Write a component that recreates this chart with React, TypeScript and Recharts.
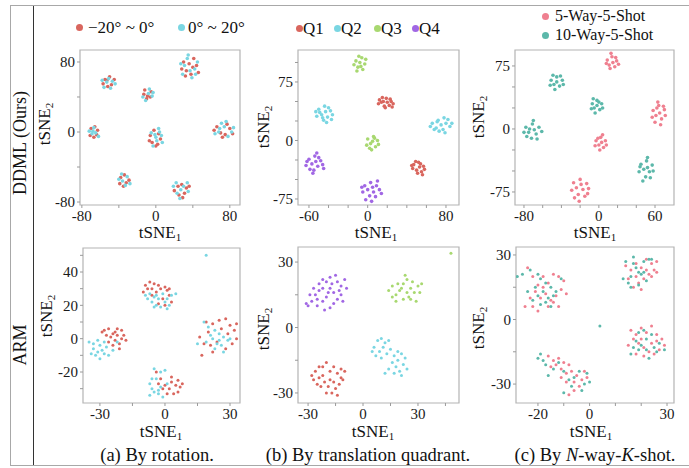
import React from "react";
import { ScatterChart, Scatter, XAxis, YAxis, ReferenceArea } from "recharts";

type Pt = [number, number];

// ---- DDML row ----
const ddmlRotNeg: Pt[] = [
  [30,80],[38,66],[44,76],[33,70],[41,84],[28,72],[46,68],[36,78],[40,74],[32,64],
  [-55,60],[-48,54],[-52,52],[-45,60],[-57,55],[-50,63],[-53,59],
  [-12,48],[-6,40],[-10,38],[-5,46],[-13,43],[-9,41],
  [-70,4],[-64,-3],[-66,6],[-71,-4],[-63,2],[-67,-6],
  [-4,-12],[3,-2],[-6,-4],[2,-14],[5,-8],[-2,2],[-7,-10],[0,-16],
  [66,6],[75,-3],[80,4],[70,-1],[63,2],[77,9],[72,-6],[83,-2],
  [-38,-52],[-32,-58],[-34,-49],[-29,-55],[-39,-59],[-35,-62],
  [24,-62],[31,-70],[20,-67],[28,-60],[33,-64],[25,-72],[29,-75],[36,-62],
];
const ddmlRotPos: Pt[] = [
  [34,84],[42,72],[29,66],[39,62],[45,80],[31,76],[37,70],[27,78],[35,88],[43,66],
  [-53,57],[-47,58],[-44,55],[-56,51],[-49,50],[-51,61],[-58,59],
  [-8,44],[-4,41],[-11,36],[-7,49],[-14,40],[-3,45],
  [-68,1],[-65,-1],[-62,-5],[-69,-2],[-67,5],[-72,1],
  [0,-6],[4,0],[-3,-16],[6,-4],[-5,-1],[1,-10],[-1,-3],[7,-12],[3,4],
  [68,0],[74,6],[82,0],[64,-2],[71,10],[78,-5],[69,4],[84,5],[76,12],
  [-36,-56],[-31,-51],[-40,-54],[-33,-61],[-28,-59],[-37,-48],
  [27,-66],[22,-58],[34,-58],[19,-62],[30,-62],[23,-70],[35,-68],[26,-76],
];
const ddmlQ1: Pt[] = [
  [14,49],[19,54],[24,50],[17,44],[22,45],[12,52],[20,49],[26,47],[15,55],[23,53],[18,42],[11,47],[25,43],[16,50],
  [47,-31],[52,-28],[57,-33],[50,-38],[55,-40],[46,-36],[53,-34],[58,-37],[49,-27],[54,-30],[51,-42],[45,-32],[56,-44],
];
const ddmlQ2: Pt[] = [
  [-50,40],[-44,44],[-38,38],[-47,33],[-41,30],[-52,31],[-36,33],[-45,26],[-40,42],[-49,36],[-43,37],[-37,27],[-53,37],[-46,29],[-42,23],
  [66,22],[72,26],[80,22],[70,16],[77,14],[84,18],[68,14],[75,20],[82,27],[64,18],[79,10],[73,12],[86,22],[71,24],[78,29],
];
const ddmlQ3: Pt[] = [
  [-12,102],[-6,106],[-3,98],[-10,94],[-5,91],[-14,97],[-8,100],[-2,104],[-11,89],[-7,95],[-9,108],
  [0,2],[6,5],[10,0],[3,-4],[8,-8],[-1,-6],[5,-1],[11,-5],[2,-10],[7,3],[4,-12],
];
const ddmlQ4: Pt[] = [
  [-60,-24],[-54,-20],[-48,-26],[-57,-30],[-51,-33],[-63,-32],[-46,-31],[-55,-38],[-50,-22],[-59,-37],[-53,-27],[-45,-36],[-62,-27],[-56,-42],[-52,-16],
  [-3,-58],[3,-54],[9,-58],[0,-63],[6,-66],[-5,-66],[12,-63],[2,-71],[8,-72],[-2,-76],[14,-68],[5,-60],[-6,-60],[10,-52],[4,-78],
];
const ddml5Way: Pt[] = [
  [9,82],[14,86],[19,81],[11,76],[17,74],[8,78],[15,79],[21,77],[12,72],[18,85],[13,90],
  [58,22],[64,28],[70,23],[61,16],[67,12],[57,14],[65,19],[71,16],[60,8],[66,5],[69,27],[62,25],[63,32],
  [-3,-14],[2,-10],[7,-14],[0,-19],[5,-22],[-4,-20],[3,-16],[8,-19],[1,-25],[-1,-11],[4,-7],
  [-27,-64],[-20,-60],[-13,-65],[-24,-70],[-17,-72],[-29,-73],[-11,-71],[-22,-78],[-15,-80],[-26,-82],[-19,-66],[-12,-77],[-21,-86],
];
const ddml10Way: Pt[] = [
  [-51,58],[-45,62],[-39,58],[-48,53],[-42,51],[-52,52],[-45,56],[-38,53],[-47,47],[-41,63],[-49,64],
  [-7,30],[-2,34],[3,30],[-5,25],[1,23],[-8,24],[-2,28],[4,25],[-4,19],[0,32],[-6,36],
  [-78,2],[-71,6],[-64,2],[-75,-4],[-67,-6],[-80,-4],[-61,-3],[-72,-11],[-66,-12],[-74,0],[-69,-1],[-77,-9],[-70,10],
  [45,-42],[51,-38],[57,-43],[48,-48],[54,-51],[43,-51],[58,-50],[50,-57],[55,-58],[47,-62],[52,-46],[44,-45],[52,-34],
];

// ---- ARM row ----
const armRotNeg: Pt[] = [
  [-9,32],[-7,34],[-5,33],[-3,32],[-8,30],[-6,30],[-4,28],[-10,28],[-2,30],[0,31],[1,29],[2,26],[-1,24],[3,22],[-3,21],[2,30],[-6,26],[0,20],
  [-28,5],[-26,6],[-24,3],[-22,6],[-20,5],[-22,2],[-20,0],[-18,-1],[-21,-3],[-23,-1],[-25,1],[-27,2],[-19,2],[-24,-4],[-21,-6],[-26,-2],[-29,4],[-23,4],
  [19,10],[22,9],[25,11],[28,12],[30,8],[32,5],[33,0],[31,-3],[28,-6],[22,-8],[17,-10],[18,-3],[16,1],[20,4],[26,6],[24,-2],[29,3],[21,-4],[33,9],
  [-4,-20],[-2,-24],[0,-28],[2,-30],[3,-26],[5,-28],[7,-29],[6,-32],[4,-33],[8,-27],[1,-33],[-1,-30],[3,-23],[-3,-27],[6,-25],
];
const armRotPos: Pt[] = [
  [-7,27],[-5,25],[-3,24],[-6,22],[-4,20],[-2,19],[0,22],[1,24],[-8,24],[3,26],[5,27],[-1,27],[-4,26],[2,20],[-5,19],[1,18],[-9,26],
  [-35,-2],[-33,-6],[-31,-8],[-29,-7],[-34,-9],[-32,-10],[-30,-12],[-28,-9],[-27,-5],[-33,-3],[-30,-4],[-26,-10],[-24,-7],[-22,-2],[-31,-1],[-28,-2],
  [20,7],[23,5],[25,3],[27,1],[22,0],[24,-3],[26,-4],[29,-1],[19,-2],[23,-6],[27,-8],[30,0],[15,-3],[21,2],[25,-1],[18,10],
  [-7,-27],[-6,-30],[-5,-32],[-7,-34],[-3,-33],[-1,-35],[-4,-24],[-2,-20],[-5,-18],[0,-19],[-2,-29],[-6,-24],[1,-27],[-3,-31],
  [19,50],
];
const armQ1: Pt[] = [
  [-28,-22],[-26,-20],[-24,-23],[-22,-18],[-20,-16],[-18,-20],[-16,-18],[-14,-21],[-12,-19],[-10,-20],[-11,-24],[-13,-26],[-15,-28],
  [-17,-30],[-19,-27],[-21,-25],[-23,-27],[-25,-26],[-27,-24],[-20,-30],[-16,-25],[-12,-23],[-18,-24],[-14,-31],[-22,-22],[-24,-18],
];
const armQ2: Pt[] = [
  [6,-9],[8,-6],[10,-5],[12,-7],[14,-6],[9,-11],[11,-9],[13,-12],[7,-13],[15,-10],[10,-14],[5,-11],[17,-13],
  [19,-15],[21,-12],[23,-14],[18,-18],[20,-20],[22,-17],[16,-16],[14,-19],[24,-19],[12,-21],[21,-22],[17,-21],[19,-11],
];
const armQ3: Pt[] = [
  [14,17],[16,19],[18,15],[20,17],[22,20],[24,22],[26,18],[28,16],[30,19],[32,20],[25,14],[22,13],
  [18,12],[29,12],[21,18],[27,21],[24,16],[19,20],[16,14],[31,16],[23,24],[26,13],[48,34],
];
const armQ4: Pt[] = [
  [-30,10],[-28,12],[-26,15],[-24,17],[-22,18],[-20,21],[-18,23],[-15,24],[-14,21],[-12,19],[-10,22],[-12,15],[-14,13],
  [-16,11],[-18,9],[-21,8],[-22,12],[-25,10],[-27,18],[-29,15],[-20,14],[-18,18],[-16,16],[-13,17],[-22,22],[-24,20],
  [-11,12],[-9,18],[-25,13],[-19,16],[-17,20],[-31,11],
];
const arm5Way: Pt[] = [
  [-24,24],[-22,20],[-18,20],[-14,21],[-12,20],[-10,18],[-9,12],[-11,14],[-13,11],[-15,9],[-17,12],[-19,10],
  [-21,13],[-23,10],[-25,6],[-22,6],[-20,4],[-16,6],[-14,8],[-18,15],[-20,16],[-12,6],[-16,17],
  [14,25],[16,23],[18,26],[20,24],[22,28],[24,26],[26,27],[25,23],[23,21],[21,19],[19,17],[17,15],[18,20],[15,19],[22,23],[24,20],[20,14],[26,22],
  [16,-5],[18,-7],[20,-4],[22,-6],[24,-3],[26,-7],[28,-9],[29,-12],[27,-14],[25,-16],[23,-15],[21,-13],[19,-11],[17,-9],[15,-12],[18,-16],[21,-17],[24,-11],[26,-10],[20,-9],
  [-16,-17],[-14,-19],[-12,-18],[-10,-20],[-8,-21],[-15,-22],[-13,-21],[-11,-23],[-9,-25],[-7,-24],[-5,-26],[-3,-28],[-1,-27],[-4,-31],[-6,-33],[-8,-35],[-2,-24],[-9,-29],[-6,-29],[-11,-27],
];
const arm10Way: Pt[] = [
  [-28,20],[-26,21],[-23,23],[-20,21],[-19,19],[-17,17],[-15,15],[-13,13],[-18,13],[-20,11],[-22,9],[-16,10],[-14,11],[-19,7],[-17,8],[-15,6],[-21,15],[-11,19],[-24,13],
  [13,19],[14,27],[16,20],[17,29],[19,22],[21,27],[23,28],[18,24],[20,21],[22,18],[19,16],[16,15],[15,17],[21,22],[24,28],[17,26],
  [17,-13],[19,-6],[21,-5],[22,-9],[20,-12],[23,-18],[25,-13],[27,-11],[29,-14],[16,-16],[18,-10],[24,-7],[22,-14],[26,-15],[19,-14],
  [-19,-16],[-20,-18],[-18,-19],[-17,-21],[-16,-26],[-14,-23],[-12,-20],[-10,-24],[-8,-28],[-6,-27],[-4,-24],[-2,-30],[0,-29],[-3,-33],[-7,-31],[-10,-34],[-1,-25],
  [4,-3],
];

const RED = "#d9665e";
const CYAN = "#7ad6e2";
const GREEN = "#a8d870";
const PURPLE = "#a167e4";
const PINK = "#ef8090";
const TEAL = "#5cb8aa";

const SERIF = "'Liberation Serif', 'Times New Roman', serif";

interface Series {
  pts: Pt[];
  color: string;
}

interface PanelProps {
  left: number;
  top: number;
  w: number;
  h: number;
  xDomain: [number, number];
  yDomain: [number, number];
  xTicks: number[];
  xLabels: number[];
  yTicks: number[];
  yLabels: number[];
  series: Series[];
  r: number;
}

function Panel(p: PanelProps) {
  const padL = 45;
  const padT = 5;
  const tick = { fontFamily: SERIF, fontSize: 15, fill: "#1a1a1a" };
  return (
    <div style={{ position: "absolute", left: p.left - padL, top: p.top - padT }}>
      <ScatterChart
        width={p.w + padL + 10}
        height={p.h + padT + 25}
        margin={{ top: padT, right: 10, bottom: 0, left: 0 }}
      >
        <XAxis
          type="number"
          dataKey="x"
          domain={p.xDomain}
          allowDataOverflow
          ticks={p.xTicks}
          interval={0}
          tickFormatter={(v: number) => (p.xLabels.includes(v) ? String(v) : "")}
          height={25}
          axisLine={false}
          tickLine={{ stroke: "#9a9a9a" }}
          tickSize={3}
          tickMargin={2}
          tick={tick}
        />
        <YAxis
          type="number"
          dataKey="y"
          domain={p.yDomain}
          allowDataOverflow
          ticks={p.yTicks}
          interval={0}
          tickFormatter={(v: number) => (p.yLabels.includes(v) ? String(v) : "")}
          width={padL}
          axisLine={false}
          tickLine={{ stroke: "#9a9a9a" }}
          tickSize={3}
          tickMargin={2}
          tick={tick}
        />
        <ReferenceArea
          x1={p.xDomain[0]}
          x2={p.xDomain[1]}
          y1={p.yDomain[0]}
          y2={p.yDomain[1]}
          fill="none"
          stroke="#b4b4b4"
          strokeWidth={1.2}
          ifOverflow="visible"
        />
        {p.series.map((s, i) => (
          <Scatter
            key={i}
            data={s.pts.map(([x, y]) => ({ x, y }))}
            isAnimationActive={false}
            shape={(props: any) => (
              <circle cx={props.cx} cy={props.cy} r={p.r} fill={s.color} />
            )}
          />
        ))}
      </ScatterChart>
    </div>
  );
}

function Txt({
  x,
  y,
  size,
  rotate,
  children,
}: {
  x: number;
  y: number;
  size: number;
  rotate?: boolean;
  children: React.ReactNode;
}) {
  return (
    <div
      style={{
        position: "absolute",
        left: x,
        top: y,
        transform: `translate(-50%, -50%)${rotate ? " rotate(-90deg)" : ""}`,
        fontFamily: SERIF,
        fontSize: size,
        lineHeight: 1,
        whiteSpace: "nowrap",
        color: "#111",
      }}
    >
      {children}
    </div>
  );
}

const TSNE = (n: number) => (
  <span>
    tSNE<sub style={{ fontSize: 11, verticalAlign: "-3px" }}>{n}</sub>
  </span>
);

function Dot({ x, y, color }: { x: number; y: number; color: string }) {
  return (
    <div
      style={{
        position: "absolute",
        left: x - 3.5,
        top: y - 3.5,
        width: 7,
        height: 7,
        borderRadius: "50%",
        background: color,
      }}
    />
  );
}

const legendText = (left: number, top: number, size: number, text: string) => (
  <div style={{ position: "absolute", left, top, fontFamily: SERIF, fontSize: size, lineHeight: 1, whiteSpace: "nowrap", color: "#111" }}>
    {text}
  </div>
);

export default function App() {
  return (
    <div
      style={{
        position: "absolute",
        left: 0,
        top: 0,
        width: 689,
        height: 468,
        background: "#fff",
        overflow: "hidden",
      }}
    >
      {/* frame */}
      <div style={{ position: "absolute", left: 10, top: 5, width: 690, height: 459, border: "1.5px solid #a8a8a8" }} />
      <div style={{ position: "absolute", left: 33, top: 6, width: 1, height: 459, background: "#333" }} />

      <Txt x={20} y={143} size={18} rotate>DDML (Ours)</Txt>
      <Txt x={20} y={345} size={18} rotate>ARM</Txt>

      {/* legends */}
      <Dot x={79} y={27} color={RED} />
      {legendText(88, 19, 17, "−20° ~ 0°")}
      <Dot x={181} y={27} color={CYAN} />
      {legendText(188, 19, 17, "0° ~ 20°")}

      {[
        { x: 299, c: RED, t: "Q1" },
        { x: 337, c: CYAN, t: "Q2" },
        { x: 377, c: GREEN, t: "Q3" },
        { x: 415, c: PURPLE, t: "Q4" },
      ].map((l) => (
        <React.Fragment key={l.t}>
          <Dot x={l.x} y={28} color={l.c} />
          {legendText(l.x + 4, 20, 17, l.t)}
        </React.Fragment>
      ))}

      <Dot x={545} y={16} color={PINK} />
      {legendText(555, 8, 16, "5-Way-5-Shot")}
      <Dot x={545} y={35} color={TEAL} />
      {legendText(555, 27, 16, "10-Way-5-Shot")}

      {/* top row */}
      <Panel
        left={80} top={50} w={160} h={155}
        xDomain={[-82, 91]} yDomain={[-83.4, 93.7]}
        xTicks={[-80, -40, 0, 40, 80]} xLabels={[-80, 0, 80]}
        yTicks={[-80, -40, 0, 40, 80]} yLabels={[-80, 0, 80]}
        series={[{ pts: ddmlRotNeg, color: RED }, { pts: ddmlRotPos, color: CYAN }]}
        r={1.8}
      />
      <Panel
        left={298} top={50} w={161} h={155}
        xDomain={[-71.2, 93.3]} yDomain={[-82.7, 116]}
        xTicks={[-60, -40, -20, 0, 20, 40, 60, 80]} xLabels={[-60, 0, 80]}
        yTicks={[-75, -50, -25, 0, 25, 50, 75, 100]} yLabels={[-75, 0, 75]}
        series={[
          { pts: ddmlQ1, color: RED },
          { pts: ddmlQ2, color: CYAN },
          { pts: ddmlQ3, color: GREEN },
          { pts: ddmlQ4, color: PURPLE },
        ]}
        r={1.8}
      />
      <Panel
        left={515} top={50} w={159} h={155}
        xDomain={[-89.6, 80.3]} yDomain={[-90.5, 94]}
        xTicks={[-80, -60, -40, -20, 0, 20, 40, 60]} xLabels={[-80, 0, 60]}
        yTicks={[-75, -50, -25, 0, 25, 50, 75]} yLabels={[-75, 0, 75]}
        series={[{ pts: ddml5Way, color: PINK }, { pts: ddml10Way, color: TEAL }]}
        r={1.8}
      />

      {/* bottom row */}
      <Panel
        left={83} top={248} w={157} h={155}
        xDomain={[-37.8, 34.6]} yDomain={[-38.6, 54.4]}
        xTicks={[-30, -15, 0, 15, 30]} xLabels={[-30, 0, 30]}
        yTicks={[-30, -20, -10, 0, 10, 20, 30, 40, 50]} yLabels={[-20, 0, 20, 40]}
        series={[{ pts: armRotNeg, color: RED }, { pts: armRotPos, color: CYAN }]}
        r={1.5}
      />
      <Panel
        left={298} top={247} w={161} h={156}
        xDomain={[-35.5, 52.4]} yDomain={[-34.6, 36.9]}
        xTicks={[-30, -15, 0, 15, 30, 45]} xLabels={[-30, 0, 30]}
        yTicks={[-30, -15, 0, 15, 30]} yLabels={[-30, 0, 30]}
        series={[
          { pts: armQ1, color: RED },
          { pts: armQ2, color: CYAN },
          { pts: armQ3, color: GREEN },
          { pts: armQ4, color: PURPLE },
        ]}
        r={1.5}
      />
      <Panel
        left={516} top={247} w={158} h={156}
        xDomain={[-28.5, 32.7]} yDomain={[-38.8, 33.7]}
        xTicks={[-20, -10, 0, 10, 20, 30]} xLabels={[-20, 0, 30]}
        yTicks={[-30, -15, 0, 15, 30]} yLabels={[-30, 0, 30]}
        series={[{ pts: arm5Way, color: PINK }, { pts: arm10Way, color: TEAL }]}
        r={1.5}
      />

      {/* axis titles */}
      <Txt x={160} y={233} size={17}>{TSNE(1)}</Txt>
      <Txt x={376} y={233} size={17}>{TSNE(1)}</Txt>
      <Txt x={595} y={233} size={17}>{TSNE(1)}</Txt>
      <Txt x={161} y={432} size={17}>{TSNE(1)}</Txt>
      <Txt x={373} y={432} size={17}>{TSNE(1)}</Txt>
      <Txt x={591} y={432} size={17}>{TSNE(1)}</Txt>

      <Txt x={45} y={124} size={17} rotate>{TSNE(2)}</Txt>
      <Txt x={264} y={127} size={17} rotate>{TSNE(2)}</Txt>
      <Txt x={479} y={117} size={17} rotate>{TSNE(2)}</Txt>
      <Txt x={47} y={316} size={17} rotate>{TSNE(2)}</Txt>
      <Txt x={264} y={329} size={17} rotate>{TSNE(2)}</Txt>
      <Txt x={479} y={328} size={17} rotate>{TSNE(2)}</Txt>

      {/* captions */}
      <Txt x={157} y={455} size={18.5}>(a) By rotation.</Txt>
      <Txt x={368} y={455} size={18.5}>(b) By translation quadrant.</Txt>
      <Txt x={595} y={455} size={18.5}>
        (c) By <i>N</i>-way-<i>K</i>-shot.
      </Txt>
    </div>
  );
}
